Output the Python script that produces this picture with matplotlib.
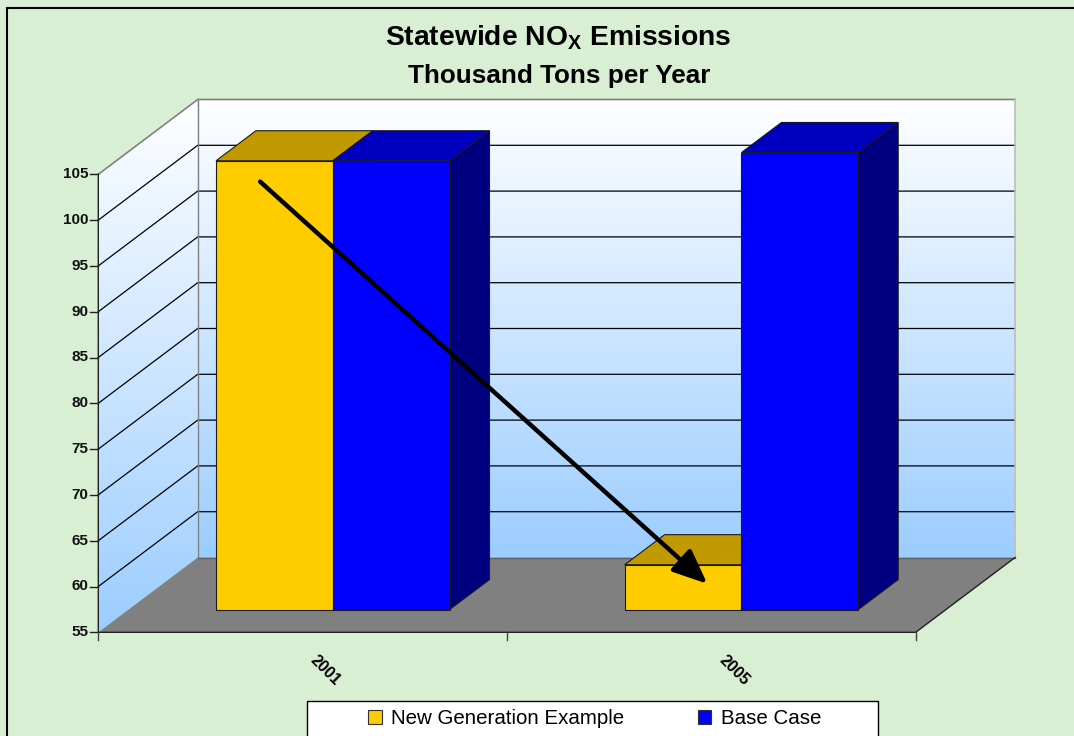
import numpy as np
import matplotlib.pyplot as plt
from matplotlib.patches import Polygon, Rectangle, FancyArrowPatch, Patch
from matplotlib.colors import to_rgb

# data
years = ['2001', '2005']
series_names = ['New Generation Example', 'Base Case']
new_generation = [104.0, 59.9]
base_case = [104.0, 104.9]
value_ticks = [55, 60, 65, 70, 75, 80, 85, 90, 95, 100, 105]
arrow_from = (0.396, 104.2)   # (category position, value)
arrow_to = (1.490, 60.3)

plt.rcParams['font.family'] = ['Liberation Sans', 'DejaVu Sans']
plt.rcParams['mathtext.fontset'] = 'custom'
plt.rcParams['mathtext.rm'] = 'Liberation Sans'
plt.rcParams['mathtext.bf'] = 'Liberation Sans:bold'

W, H = 1074, 736
# front plane layout in pixels: left x, width of a category, floor y (from top), px per unit
X0, CW, Y0, PU = 98.3, 408.7, 632.3, 9.16
DX, DY = 99.4 / CW, 74.8 / PU      # full depth offset in data units
VMIN, VMAX = value_ticks[0], value_ticks[-1]
NCAT = len(years)
D0, D1 = 0.303, 0.705               # bar depth range (fraction of floor depth)
GAP = 1.5

front_colors = ['#FFCC00', '#0000FF']
top_colors = ['#C09A00', '#0000C0']
side_colors = ['#806600', '#000080']

fig = plt.figure(figsize=(W / 100, H / 100), dpi=100, facecolor='#D9EFD4')
ax = fig.add_axes([0, 0, 1, 1])
ax.set_xlim(-X0 / CW, (W - X0) / CW)
ax.set_ylim(VMIN - (H - Y0) / PU, VMIN + Y0 / PU)
ax.axis('off')


def p(x, y, d=0.0):
    return (x + d * DX, y + d * DY)


def gradient_fill(poly, y_lo, y_hi, x_lo, x_hi, c_top='#FFFFFF', c_bot='#9CCDFF'):
    t = np.linspace(0, 1, 256)[:, None, None]
    img = (1 - t) * np.array(to_rgb(c_top)) + t * np.array(to_rgb(c_bot))
    im = ax.imshow(img, extent=(x_lo, x_hi, y_lo, y_hi), aspect='auto',
                   interpolation='bilinear', zorder=1)
    im.set_clip_path(poly)


# walls and floor
back = Polygon([p(0, VMIN, 1), p(NCAT, VMIN, 1), p(NCAT, VMAX, 1), p(0, VMAX, 1)],
               closed=True, fc='none', ec='none')
ax.add_patch(back)
gradient_fill(back, VMIN + DY, VMAX + DY, DX, NCAT + DX)
side = Polygon([p(0, VMIN), p(0, VMIN, 1), p(0, VMAX, 1), p(0, VMAX)],
               closed=True, fc='none', ec='none')
ax.add_patch(side)
gradient_fill(side, VMIN, VMAX + DY, 0, DX)
floor = Polygon([p(0, VMIN), p(NCAT, VMIN), p(NCAT, VMIN, 1), p(0, VMIN, 1)],
                closed=True, fc='#808080', ec='none', zorder=2)
ax.add_patch(floor)

# gridlines
for v in value_ticks[1:-1]:
    xs, ys = zip(p(0, v), p(0, v, 1), p(NCAT, v, 1))
    ax.plot(xs, ys, color='black', lw=0.9, zorder=3)

# wall edges
xs, ys = zip(p(0, VMAX), p(0, VMAX, 1), p(NCAT, VMAX, 1), p(NCAT, VMIN, 1))
ax.plot(xs[:3], ys[:3], color='#808080', lw=1.2, zorder=3)
ax.plot(xs[2:], ys[2:], color='#BDBDBD', lw=1.2, zorder=3)
xs, ys = zip(p(0, VMIN, 1), p(0, VMAX, 1))
ax.plot(xs, ys, color='#808080', lw=1.0, zorder=3)
xs, ys = zip(p(0, VMIN, 1), p(NCAT, VMIN, 1))
ax.plot(xs, ys, color='#606060', lw=1.0, zorder=3)
xs, ys = zip(p(0, VMAX), p(0, VMIN), p(NCAT, VMIN), p(NCAT, VMIN, 1))
ax.plot(xs, ys, color='#202020', lw=1.0, zorder=4)

# value axis ticks and labels
for v in value_ticks:
    ax.plot([-8 / CW, 0], [v, v], color='#202020', lw=1.0, zorder=4)
    ax.text(-10 / CW, v, str(v), ha='right', va='center', fontsize=11,
            fontweight='bold', color='#111111')

# category ticks and labels
for c in range(NCAT + 1):
    ax.plot([c, c], [VMIN, VMIN - 8 / PU], color='#404040', lw=1.0, zorder=4)
for i, yr in enumerate(years):
    ax.text(i + 0.5 + 23 / CW, VMIN - 38 / PU, yr, rotation=-45, ha='center',
            va='center', rotation_mode='anchor', fontsize=11.5, fontweight='bold')

# bars
w = 1.0 / (len(series_names) + GAP)
series = [new_generation, base_case]
for i in range(NCAT):
    for j, vals in enumerate(series):
        v = vals[i]
        xl = i + GAP * w / 2 + j * w
        xr = xl + w
        front = [p(xl, VMIN, D0), p(xr, VMIN, D0), p(xr, v, D0), p(xl, v, D0)]
        top = [p(xl, v, D0), p(xr, v, D0), p(xr, v, D1), p(xl, v, D1)]
        sidef = [p(xr, VMIN, D0), p(xr, VMIN, D1), p(xr, v, D1), p(xr, v, D0)]
        z = 5 + i * 3 + j
        for pts, col in ((sidef, side_colors[j]), (top, top_colors[j]), (front, front_colors[j])):
            ax.add_patch(Polygon(pts, closed=True, fc=col, ec='#1A1A1A', lw=0.8, zorder=z))

# trend arrow
ax.add_patch(FancyArrowPatch(arrow_from, arrow_to,
                             arrowstyle='-|>,head_length=1.05,head_width=0.45',
                             mutation_scale=20, color='black', lw=3.2,
                             shrinkA=0, shrinkB=0, zorder=20))

# titles
fig.text(558 / W, 1 - 38 / H, r'Statewide NO$_\mathbf{X}$ Emissions', ha='center',
         va='center', fontsize=20.3, fontweight='bold')
fig.text(559 / W, 1 - 76 / H, 'Thousand Tons per Year', ha='center', va='center',
         fontsize=18.8, fontweight='bold')

# legend
fig.patches.append(Rectangle((307 / W, -0.05), (878 - 307) / W, 0.05 + (736 - 701) / H,
                             transform=fig.transFigure, fc='white', ec='black', lw=1.0))
handles = [Patch(fc=front_colors[k], ec='#333333', lw=0.8) for k in range(2)]
fig.legend(handles, series_names, ncol=2, frameon=False, loc='center left',
           bbox_to_anchor=(358 / W, 1 - 719 / H), fontsize=14.8, handlelength=0.65,
           handleheight=0.65, handletextpad=0.45, columnspacing=3.6, borderpad=0)

# chart area border
fig.patches.append(Rectangle((7.5 / W, -0.1), 1.2, 1.1 - 7.5 / H, transform=fig.transFigure,
                             fill=False, ec='black', lw=1.5))

fig.savefig('out.png', dpi=100, facecolor=fig.get_facecolor())
